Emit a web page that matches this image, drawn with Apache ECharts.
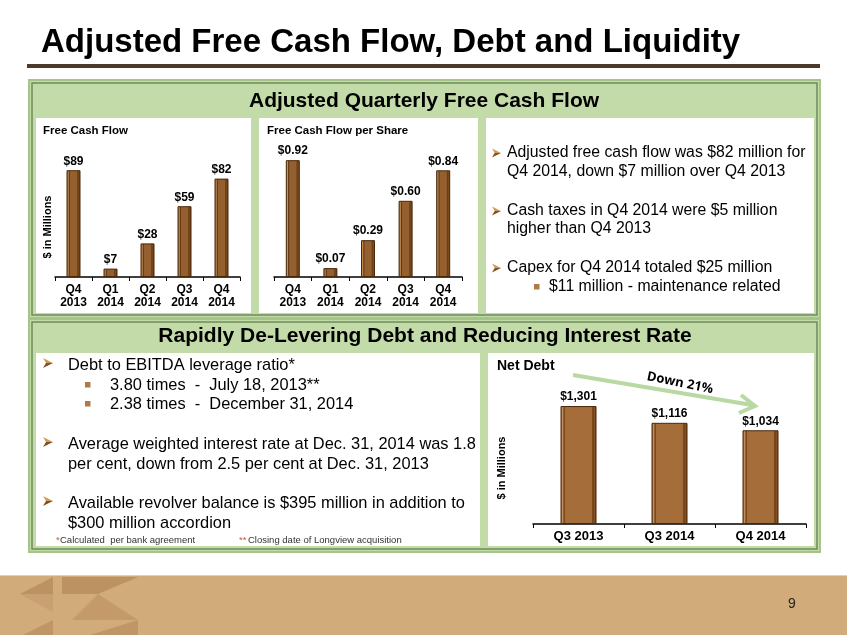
<!DOCTYPE html>
<html lang="en">
<head>
    <meta charset="UTF-8">
    <title>Adjusted Free Cash Flow, Debt and Liquidity</title>
    <style>
        * {
            margin: 0;
            padding: 0;
        }

        #slide {
            width: 847px;
            height: 635px;
        }
    </style>
</head>
<body>
    <div id="slide"></div>
    <script src="https://cdn.jsdelivr.net/npm/echarts@6/dist/echarts.min.js"></script>
    <script>
        // chart data
        var fcfCategories = ['Q4\n2013', 'Q1\n2014', 'Q2\n2014', 'Q3\n2014', 'Q4\n2014'];
        var fcfValues = [89, 7, 28, 59, 82];
        var fcfPerShare = [0.92, 0.07, 0.29, 0.60, 0.84];
        var debtCategories = ['Q3 2013', 'Q3 2014', 'Q4 2014'];
        var netDebt = [1301, 1116, 1034];

        var FONT = '"Liberation Sans", Arial, sans-serif';

        // bevelled brown bar fill
        var barFill = new echarts.graphic.LinearGradient(0, 0, 1, 0, [
            { offset: 0, color: '#6e4118' },
            { offset: 0.12, color: '#c8915a' },
            { offset: 0.2, color: '#5e3510' },
            { offset: 0.28, color: '#956030' },
            { offset: 0.72, color: '#956030' },
            { offset: 0.8, color: '#6a3d14' },
            { offset: 0.9, color: '#7c4a1e' },
            { offset: 1, color: '#4a2808' }
        ]);
        var wideBarFill = new echarts.graphic.LinearGradient(0, 0, 1, 0, [
            { offset: 0, color: '#7a4a1c' },
            { offset: 0.06, color: '#c8935e' },
            { offset: 0.1, color: '#6a3d14' },
            { offset: 0.14, color: '#a46d3a' },
            { offset: 0.86, color: '#a46d3a' },
            { offset: 0.9, color: '#6a3d14' },
            { offset: 0.95, color: '#8a5526' },
            { offset: 1, color: '#4a2808' }
        ]);

        function txt(x, y, s, size, opts) {
            opts = opts || {};
            return {
                type: 'text',
                z: 50,
                x: x,
                y: y,
                rotation: opts.rotation || 0,
                style: {
                    text: s,
                    font: (opts.weight || 'normal') + ' ' + size + 'px ' + (opts.family || FONT),
                    fill: opts.color || '#000',
                    textAlign: opts.align || 'left',
                    textVerticalAlign: 'middle'
                }
            };
        }

        function rect(x, y, w, h, fill, stroke, lw) {
            return {
                type: 'rect',
                z: 0,
                shape: { x: x, y: y, width: w, height: h },
                style: { fill: fill, stroke: stroke || null, lineWidth: lw || 0 }
            };
        }

        function poly(points, fill, z) {
            return { type: 'polygon', z: z || 1, shape: { points: points }, style: { fill: fill } };
        }

        // notched arrowhead bullet, light top half and dark bottom half
        function arrowBullet(x, y, s) {
            var h = s / 2;
            return [
                poly([[x, y - h], [x + s, y], [x + s * 0.3, y]], '#d39a5a', 45),
                poly([[x, y + h], [x + s, y], [x + s * 0.3, y]], '#80501f', 45)
            ];
        }

        function squareBullet(x, y) {
            return rect(x, y - 3, 5.5, 5.5, '#b07a48');
        }

        function frame(x, y, w, h) {
            return [
                rect(x, y, w, h, '#c2dba8', '#a4c48a', 2),
                rect(x + 3, y + 3, w - 6, h - 6, null, '#6f8c58', 1.5)
            ];
        }

        var graphics = []
            // title
            .concat([
                txt(41, 43, 'Adjusted Free Cash Flow, Debt and Liquidity', 33, { weight: 'bold' }),
                rect(27, 64, 793, 4, '#4b3a2c')
            ])
            // top panel
            .concat(frame(29, 80, 791, 238))
            .concat([
                rect(36, 118, 215, 195, '#fff'),
                rect(259, 118, 219, 195, '#fff'),
                rect(486, 118, 328, 195, '#fff'),
                txt(424, 101, 'Adjusted Quarterly Free Cash Flow', 21, { weight: 'bold', align: 'center' }),
                txt(43, 131, 'Free Cash Flow', 11.5, { weight: 'bold' }),
                txt(267, 131, 'Free Cash Flow per Share', 11.5, { weight: 'bold' }),
                txt(48, 227, '$ in Millions', 11, { weight: 'bold', align: 'center', rotation: Math.PI / 2 }),
                txt(507, 153, 'Adjusted free cash flow was $82 million for', 15.8),
                txt(507, 172, 'Q4 2014, down $7 million over Q4 2013', 15.8),
                txt(507, 211, 'Cash taxes in Q4 2014 were $5 million', 15.8),
                txt(507, 229, 'higher than Q4 2013', 15.8),
                txt(507, 268, 'Capex for Q4 2014 totaled $25 million', 15.8),
                squareBullet(534, 287),
                txt(549, 287, '$11 million - maintenance related', 15.8)
            ])
            .concat(arrowBullet(492, 153, 9))
            .concat(arrowBullet(492, 211, 9))
            .concat(arrowBullet(492, 268, 9))
            // bottom panel
            .concat(frame(29, 319, 791, 233))
            .concat([
                rect(36, 353, 444, 193, '#fff'),
                rect(488, 353, 326, 193, '#fff'),
                txt(425, 336, 'Rapidly De-Levering Debt and Reducing Interest Rate', 21, { weight: 'bold', align: 'center' }),
                txt(68, 365, 'Debt to EBITDA leverage ratio*', 16.4),
                squareBullet(85, 385),
                txt(110, 385, '3.80 times  -  July 18, 2013**', 16.4),
                squareBullet(85, 404),
                txt(110, 404, '2.38 times  -  December 31, 2014', 16.4),
                txt(68, 444, 'Average weighted interest rate at Dec. 31, 2014 was 1.8', 16.4),
                txt(68, 464, 'per cent, down from 2.5 per cent at Dec. 31, 2013', 16.4),
                txt(68, 503, 'Available revolver balance is $395 million in addition to', 16.4),
                txt(68, 523, '$300 million accordion', 16.4),
                txt(56, 540, '*', 9.5, { color: '#c0603a' }),
                txt(60, 540, 'Calculated  per bank agreement', 9.5, { color: '#333' }),
                txt(239, 540, '**', 9.5, { color: '#c0603a' }),
                txt(248, 540, 'Closing date of Longview acquisition', 9.5, { color: '#333' }),
                txt(497, 366, 'Net Debt', 14, { weight: 'bold' }),
                txt(502, 468, '$ in Millions', 11, { weight: 'bold', align: 'center', rotation: Math.PI / 2 }),
                // "Down 21%" arrow
                {
                    type: 'line', z: 40,
                    shape: { x1: 573, y1: 375, x2: 752, y2: 405 },
                    style: { stroke: '#b9d8a2', lineWidth: 4 }
                },
                {
                    type: 'polyline', z: 40,
                    shape: { points: [[741, 395], [755, 406], [739, 413]] },
                    style: { stroke: '#b9d8a2', lineWidth: 4, fill: null }
                },
                txt(680, 383, 'Down 21%', 13, { weight: 'bold', family: '"Open Sans", sans-serif', align: 'center', rotation: -0.2 })
            ])
            .concat(arrowBullet(43, 363, 10))
            .concat(arrowBullet(43, 442, 10))
            .concat(arrowBullet(43, 501, 10))
            // footer band and logo
            .concat([
                rect(0, 575, 847, 60, '#d2ab7b'),
                rect(0, 575, 847, 1, '#e6cfb2'),
                poly([[20, 594], [53, 577], [53, 594]], '#bc9262'),
                poly([[20, 594], [53, 594], [53, 612]], '#c9a071'),
                poly([[23, 635], [53, 620], [53, 635]], '#c09666'),
                poly([[62, 577], [138, 577], [98, 594], [62, 594]], '#bc9262'),
                poly([[98, 594], [138, 620], [72, 620]], '#c49a6a'),
                poly([[90, 635], [138, 620], [138, 635]], '#c09666'),
                txt(792, 604, '9', 14, { color: '#222', align: 'center' })
            ]);

        var catAxis = function (grid, data, size) {
            return {
                type: 'category',
                gridIndex: grid,
                data: data,
                axisLine: { lineStyle: { color: '#000', width: 1.5 } },
                axisTick: { show: true, length: 4, lineStyle: { color: '#000' } },
                axisLabel: {
                    interval: 0, color: '#000', fontWeight: 'bold', fontSize: size,
                    lineHeight: 13, margin: 6, fontFamily: FONT
                }
            };
        };
        var valAxis = function (grid, max) {
            return { type: 'value', gridIndex: grid, min: 0, max: max, show: false };
        };
        var barLabel = function (fmt) {
            return {
                show: true, position: 'top', distance: 3, color: '#000',
                fontWeight: 'bold', fontSize: 12, fontFamily: FONT, formatter: fmt
            };
        };

        var option = {
            backgroundColor: '#fff',
            animation: false,
            graphic: { elements: graphics },
            grid: [
                { left: 55, width: 185, top: 157, bottom: 358 },
                { left: 274, width: 188, top: 150, bottom: 358 },
                { left: 533, width: 273, top: 388, bottom: 111 }
            ],
            xAxis: [
                catAxis(0, fcfCategories, 12),
                catAxis(1, fcfCategories, 12),
                catAxis(2, debtCategories, 13)
            ],
            yAxis: [
                valAxis(0, 100),
                valAxis(1, 1),
                valAxis(2, 1500)
            ],
            series: [
                {
                    type: 'bar', xAxisIndex: 0, yAxisIndex: 0, barWidth: 14, z: 10,
                    data: fcfValues,
                    itemStyle: { color: barFill, borderColor: '#4a2808', borderWidth: 1 },
                    label: barLabel(function (p) { return '$' + p.value; })
                },
                {
                    type: 'bar', xAxisIndex: 1, yAxisIndex: 1, barWidth: 14, z: 10,
                    data: fcfPerShare,
                    itemStyle: { color: barFill, borderColor: '#4a2808', borderWidth: 1 },
                    label: barLabel(function (p) { return '$' + p.value.toFixed(2); })
                },
                {
                    type: 'bar', xAxisIndex: 2, yAxisIndex: 2, barWidth: 36, z: 10,
                    data: netDebt,
                    itemStyle: { color: wideBarFill, borderColor: '#4a2808', borderWidth: 1 },
                    label: barLabel(function (p) { return '$' + p.value.toLocaleString('en-US'); })
                }
            ]
        };

        var chart = echarts.init(document.getElementById('slide'));
        chart.setOption(option);
    </script>
</body>
</html>
